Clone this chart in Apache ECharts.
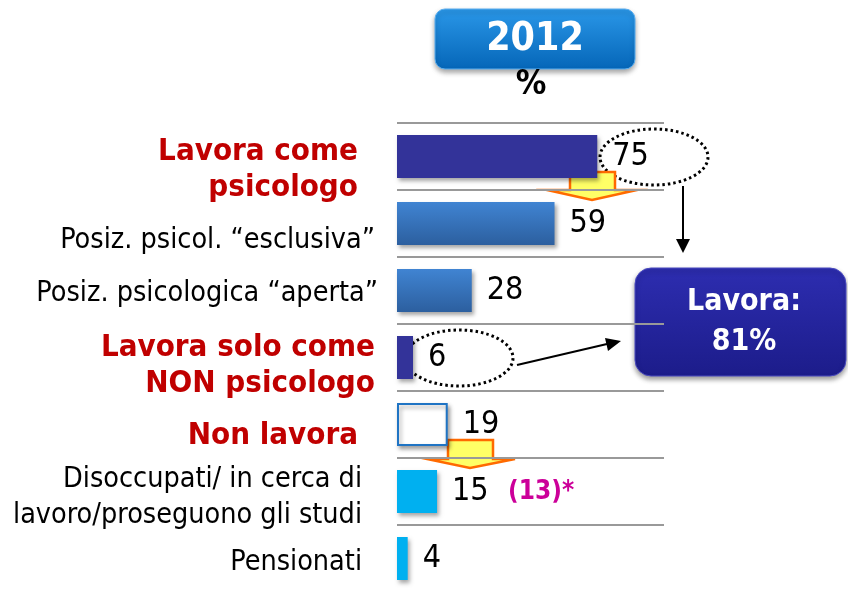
<!DOCTYPE html>
<html>
<head>
<meta charset="utf-8">
<script src="https://cdn.jsdelivr.net/npm/echarts@6/dist/echarts.min.js"></script>
<style>
  html, body { margin: 0; padding: 0; background: #fff; }
  #chart { width: 848px; height: 589px; }
</style>
</head>
<body>
<div id="chart"></div>
<script>
// data
const categories = [
  'Lavora come\npsicologo',
  'Posiz. psicol. “esclusiva”',
  'Posiz. psicologica “aperta”',
  'Lavora solo come\nNON psicologo',
  'Non lavora',
  'Disoccupati/ in cerca di\nlavoro/proseguono gli studi',
  'Pensionati'
]
const values = [75, 59, 28, 6, 19, 15, 4]
const headingRows = [0, 3, 4]
const yearLabel = '2012'
const unitLabel = '%'
const totalLabel = ['Lavora:', '81%']
const noteLabel = '(13)*'

const FONT = '"DejaVu Sans Condensed", "DejaVu Sans", sans-serif'

// label tweaks per row: vertical shift down, extra right padding
const labelShift = [13, 17, 3, 8, 11, 6, 4]
const labelPadR = [20, 3, 0, 3, 20, 16, 16]

const blueGrad = new echarts.graphic.LinearGradient(0, 0, 0, 1, [
  { offset: 0, color: '#4084d2' },
  { offset: 1, color: '#2c5f9f' }
])
const barStyles = [
  { color: '#333399' },
  { color: blueGrad },
  { color: blueGrad },
  { color: '#333399' },
  { color: '#ffffff', borderColor: '#1f74c4', borderWidth: 2 },
  { color: '#00b0f0' },
  { color: '#00b0f0' }
]

const rich = {}
categories.forEach((c, i) => {
  const head = headingRows.indexOf(i) >= 0
  rich['t' + i] = {
    fontFamily: FONT,
    fontSize: head ? 31 : 28.5,
    fontWeight: head ? 'bold' : 'normal',
    color: head ? '#c00000' : '#000000',
    lineHeight: 36,
    padding: [0, labelPadR[i], 0, 0]
  }
  rich['s' + i] = { fontSize: 1, lineHeight: Math.max(1, labelShift[i] * 2) }
})

const chart = echarts.init(document.getElementById('chart'))

const option = {
  backgroundColor: '#ffffff',
  animation: false,
  grid: {
    left: 397,
    top: 123,
    width: 267,
    height: 469,
    outerBoundsMode: 'none',
    containLabel: false
  },
  xAxis: {
    type: 'value',
    min: 0,
    max: 100,
    show: false
  },
  yAxis: {
    type: 'category',
    inverse: true,
    data: categories,
    axisLine: { show: false },
    axisTick: { show: false },
    splitLine: {
      show: true,
      lineStyle: { color: '#999999', width: 2 }
    },
    axisLabel: {
      margin: 19,
      align: 'right',
      formatter: function (val, idx) {
        const lines = val.split('\n').map(l => '{t' + idx + '|' + l + '}')
        return '{s' + idx + '| }\n' + lines.join('\n')
      },
      rich: rich
    }
  },
  series: [
    {
      type: 'bar',
      barWidth: 43,
      data: values.map((v, i) => ({
        value: v,
        itemStyle: Object.assign({
          shadowColor: 'rgba(0,0,0,0.35)',
          shadowBlur: 4,
          shadowOffsetX: 2,
          shadowOffsetY: 3
        }, barStyles[i])
      })),
      label: {
        show: true,
        position: 'right',
        distance: 15,
        fontFamily: FONT,
        fontSize: 32,
        color: '#000000'
      }
    }
  ],
  graphic: [
    // year box
    {
      type: 'rect',
      shape: { x: 435, y: 9, width: 200, height: 60, r: 10 },
      style: {
        fill: new echarts.graphic.LinearGradient(0, 0, 0, 1, [
          { offset: 0, color: '#2a97e8' },
          { offset: 1, color: '#0566b8' }
        ]),
        stroke: '#5aaef0',
        lineWidth: 1,
        shadowColor: 'rgba(0,0,0,0.35)',
        shadowBlur: 5,
        shadowOffsetY: 3
      }
    },
    {
      type: 'text',
      x: 535, y: 40,
      style: {
        text: yearLabel, fill: '#ffffff', font: 'bold 39px ' + FONT,
        align: 'center', verticalAlign: 'middle'
      }
    },
    {
      type: 'text',
      x: 531, y: 85,
      style: {
        text: unitLabel, fill: '#000000', font: 'bold 34px ' + FONT,
        align: 'center', verticalAlign: 'middle'
      }
    },
    // total box
    {
      type: 'rect',
      shape: { x: 635, y: 268, width: 211, height: 108, r: 16 },
      style: {
        fill: new echarts.graphic.LinearGradient(0, 0, 0, 1, [
          { offset: 0, color: '#2d2db0' },
          { offset: 1, color: '#1c1c8a' }
        ]),
        stroke: '#4a4ac0',
        lineWidth: 1,
        shadowColor: 'rgba(0,0,0,0.4)',
        shadowBlur: 5,
        shadowOffsetY: 3
      }
    },
    {
      type: 'text',
      x: 744, y: 322,
      style: {
        text: totalLabel.join('\n'), fill: '#ffffff', font: 'bold 30px ' + FONT,
        lineHeight: 40, align: 'center', verticalAlign: 'middle'
      }
    },
    // dotted ellipses
    {
      type: 'ellipse',
      shape: { cx: 654, cy: 157, rx: 54, ry: 28 },
      style: { fill: 'none', stroke: '#000000', lineWidth: 3, lineDash: [2.5, 3] }
    },
    {
      type: 'ellipse',
      shape: { cx: 459, cy: 358, rx: 54, ry: 28 },
      style: { fill: 'none', stroke: '#000000', lineWidth: 3, lineDash: [2.5, 3] }
    },
    // arrows
    {
      type: 'line',
      shape: { x1: 683, y1: 186, x2: 683, y2: 240 },
      style: { stroke: '#000000', lineWidth: 2 }
    },
    {
      type: 'polygon',
      shape: { points: [[676, 239], [690, 239], [683, 253]] },
      style: { fill: '#000000' }
    },
    {
      type: 'line',
      shape: { x1: 517, y1: 365, x2: 607, y2: 344 },
      style: { stroke: '#000000', lineWidth: 2 }
    },
    {
      type: 'polygon',
      shape: { points: [[608, 351], [605, 338], [621, 341]] },
      style: { fill: '#000000' }
    },
    // block arrows
    {
      type: 'polygon',
      shape: { points: [[570, 172], [615, 172], [615, 190], [637, 190], [592, 200], [547, 190], [570, 190]] },
      style: { fill: '#ffff66', stroke: '#ff6a00', lineWidth: 2.5 }
    },
    {
      type: 'polygon',
      shape: { points: [[448, 440], [493, 440], [493, 459], [515, 459], [470, 468], [427, 459], [448, 459]] },
      style: { fill: '#ffff66', stroke: '#ff6a00', lineWidth: 2.5 }
    },
    // note
    {
      type: 'text',
      x: 508, y: 492,
      style: {
        text: noteLabel, fill: '#cc0099', font: 'bold 26px ' + FONT,
        align: 'left', verticalAlign: 'middle'
      }
    }
  ]
}

chart.setOption(option)
</script>
</body>
</html>
